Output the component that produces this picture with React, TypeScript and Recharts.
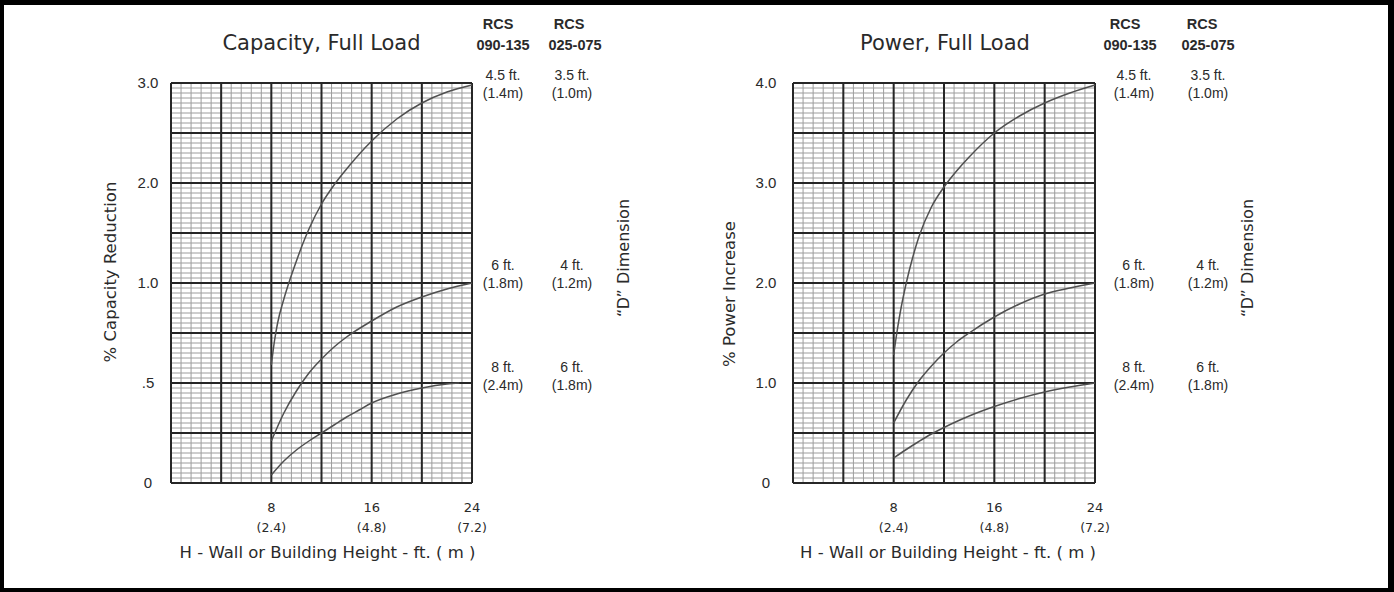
import { LineChart, Line, XAxis, YAxis, CartesianGrid } from 'recharts'

const FONT_G = "'DejaVu Sans', sans-serif"
const FONT_A = "'Liberation Sans', Arial, sans-serif"
const INK = '#2a2a2a'

// x axis (wall height, ft) ticks and their metric labels
const xTicks = [8, 16, 24]
const xTickMeters = ['(2.4)', '(4.8)', '(7.2)']

// y tick labels, one per plotted unit 0..4
const capTickLabels = ['0', '.5', '1.0', '2.0', '3.0']
const powTickLabels = ['0', '1.0', '2.0', '3.0', '4.0']

// "D" dimension labels next to the curve ends
const rcs090Labels = [['4.5 ft.', '(1.4m)'], ['6 ft.', '(1.8m)'], ['8 ft.', '(2.4m)']]
const rcs025Labels = [['3.5 ft.', '(1.0m)'], ['4 ft.', '(1.2m)'], ['6 ft.', '(1.8m)']]

// Capacity, Full Load — % capacity reduction
const capHeightsA = [8, 8.25, 8.5, 9, 9.5, 10, 10.5, 11, 12, 13, 14, 16, 18, 20, 22, 24]
const capReductionA = [0.59, 0.71, 0.8, 0.92, 1.04, 1.22, 1.39, 1.54, 1.79, 1.98, 2.14, 2.42, 2.64, 2.8, 2.91, 2.98]
const capHeightsB = [8, 9, 10, 11, 12, 13, 14, 16, 18, 20, 22, 24]
const capReductionB = [0.21, 0.35, 0.46, 0.55, 0.62, 0.68, 0.73, 0.81, 0.88, 0.93, 0.97, 1.0]
const capHeightsC = [8, 9, 10, 11, 12, 13, 14, 15, 16, 18, 20, 22, 23]
const capReductionC = [0.04, 0.11, 0.165, 0.21, 0.25, 0.29, 0.33, 0.365, 0.4, 0.445, 0.475, 0.495, 0.5]

// Power, Full Load — % power increase
const powHeightsA = [8, 8.25, 8.5, 9, 9.5, 10, 11, 12, 13, 14, 16, 18, 20, 22, 24]
const powIncreaseA = [1.28, 1.5, 1.69, 2.0, 2.25, 2.46, 2.76, 2.96, 3.12, 3.26, 3.5, 3.67, 3.8, 3.9, 3.98]
const powHeightsB = [8, 9, 10, 11, 12, 13, 14, 16, 18, 20, 22, 24]
const powIncreaseB = [0.6, 0.83, 1.02, 1.17, 1.3, 1.41, 1.5, 1.66, 1.79, 1.89, 1.95, 2.0]
const powHeightsC = [8, 9, 10, 11, 12, 13, 14, 16, 18, 20, 22, 24]
const powIncreaseC = [0.25, 0.335, 0.415, 0.49, 0.555, 0.615, 0.67, 0.765, 0.845, 0.91, 0.96, 1.0]

// capacity axis is stretched below 1.0 (0..1 takes half the height)
const capToAxis = (v: number) => (v <= 1 ? v * 2 : v + 1)
const powToAxis = (v: number) => v

const Y_MAX = 4
const X_MAX = 24

const steps = (step: number, n: number) => Array.from({ length: n + 1 }, (_, i) => +(i * step).toFixed(3))
const minorY = steps(0.05, 80)
const majorY = steps(0.5, 8)
const minorX = steps(0.8, 30)
const majorX = steps(4, 6)

const toRows = (hs: number[], vs: number[], f: (v: number) => number) => hs.map((h, i) => ({ h, v: f(vs[i]) }))

// grid lines at axis values, mapped onto the plot area
const yLines = (vals: number[]) => ({ yAxis, offset }: any) =>
  vals.map(v =>
    yAxis && typeof yAxis.scale === 'function' ? yAxis.scale(v) : offset.top + offset.height * (1 - v / Y_MAX)
  )
const xLines = (vals: number[]) => ({ xAxis, offset }: any) =>
  vals.map(v =>
    xAxis && typeof xAxis.scale === 'function' ? xAxis.scale(v) : offset.left + offset.width * (v / X_MAX)
  )

interface ChartProps {
  left: number
  rightMargin: number
  tickLabels: string[]
  tickCenter: number
  series: { h: number; v: number }[][]
}

function GridChart({ left, rightMargin, tickLabels, tickCenter, series }: ChartProps) {
  return (
    <div style={{ position: 'absolute', left, top: 0 }}>
      <LineChart width={622} height={592} margin={{ top: 83, right: rightMargin, bottom: 49, left: 131 }}>
        <CartesianGrid
          stroke="#9c9c9c"
          strokeWidth={1}
          horizontalCoordinatesGenerator={yLines(minorY)}
          verticalCoordinatesGenerator={xLines(minorX)}
        />
        <CartesianGrid
          stroke="#262626"
          strokeWidth={2}
          horizontalCoordinatesGenerator={yLines(majorY)}
          verticalCoordinatesGenerator={xLines(majorX)}
        />
        <XAxis
          type="number"
          dataKey="h"
          domain={[0, X_MAX]}
          ticks={xTicks}
          height={60}
          axisLine={false}
          tickLine={false}
          tick={({ x, payload }: any) => {
            const i = xTicks.indexOf(payload.value)
            return (
              <g>
                <text x={x} y={512} textAnchor="middle" fontFamily={FONT_G} fontSize={13} fill={INK}>{payload.value}</text>
                <text x={x} y={532} textAnchor="middle" fontFamily={FONT_G} fontSize={12.5} fill={INK}>{xTickMeters[i]}</text>
              </g>
            )
          }}
        />
        <YAxis
          type="number"
          domain={[0, Y_MAX]}
          ticks={[0, 1, 2, 3, 4]}
          width={40}
          axisLine={false}
          tickLine={false}
          tick={({ y, payload }: any) => (
            <text x={tickCenter} y={y} dy={5} textAnchor="middle" fontFamily={FONT_A} fontSize={15} fill={INK}>
              {tickLabels[payload.value]}
            </text>
          )}
        />
        {series.map((d, i) => (
          <Line key={i} data={d} dataKey="v" type="monotone" stroke="#505050" strokeWidth={1.5} dot={false} isAnimationActive={false} />
        ))}
      </LineChart>
    </div>
  )
}

interface NoteProps {
  titleX: number
  title: string
  yLabel: string
  yLabelX: number
  yLabelY: number
  rcsX: number[]
  numX: number[]
  colX: number[]
  dimX: number
  xLabelX: number
}

const rowY1 = [80, 270, 372]
const rowY2 = [98, 288, 390]

function Notes({ titleX, title, yLabel, yLabelX, yLabelY, rcsX, numX, colX, dimX, xLabelX }: NoteProps) {
  return (
    <g fill={INK}>
      <text x={titleX} y={50} textAnchor="middle" fontFamily={FONT_G} fontSize={21}>{title}</text>
      <text x={rcsX[0]} y={29} textAnchor="middle" fontFamily={FONT_A} fontSize={14.5} fontWeight="bold">RCS</text>
      <text x={numX[0]} y={50} textAnchor="middle" fontFamily={FONT_A} fontSize={14.5} fontWeight="bold">090-135</text>
      <text x={rcsX[1]} y={29} textAnchor="middle" fontFamily={FONT_A} fontSize={14.5} fontWeight="bold">RCS</text>
      <text x={numX[1]} y={50} textAnchor="middle" fontFamily={FONT_A} fontSize={14.5} fontWeight="bold">025-075</text>
      {rcs090Labels.map((r, i) => (
        <g key={'a' + i}>
          <text x={colX[0]} y={rowY1[i]} textAnchor="middle" fontFamily={FONT_A} fontSize={14}>{r[0]}</text>
          <text x={colX[0]} y={rowY2[i]} textAnchor="middle" fontFamily={FONT_A} fontSize={14}>{r[1]}</text>
        </g>
      ))}
      {rcs025Labels.map((r, i) => (
        <g key={'b' + i}>
          <text x={colX[1]} y={rowY1[i]} textAnchor="middle" fontFamily={FONT_A} fontSize={14}>{r[0]}</text>
          <text x={colX[1]} y={rowY2[i]} textAnchor="middle" fontFamily={FONT_A} fontSize={14}>{r[1]}</text>
        </g>
      ))}
      <text x={dimX} y={258} dy={6} textAnchor="middle" fontFamily={FONT_G} fontSize={16} transform={`rotate(-90 ${dimX} 258)`}>
        “D” Dimension
      </text>
      <text x={yLabelX} y={yLabelY} dy={6} textAnchor="middle" fontFamily={FONT_G} fontSize={16.5} transform={`rotate(-90 ${yLabelX} ${yLabelY})`}>
        {yLabel}
      </text>
      <text x={xLabelX} y={558} textAnchor="middle" fontFamily={FONT_G} fontSize={16.5}>H - Wall or Building Height - ft. ( m )</text>
    </g>
  )
}

export default function App() {
  const capSeries = [
    toRows(capHeightsA, capReductionA, capToAxis),
    toRows(capHeightsB, capReductionB, capToAxis),
    toRows(capHeightsC, capReductionC, capToAxis),
  ]
  const powSeries = [
    toRows(powHeightsA, powIncreaseA, powToAxis),
    toRows(powHeightsB, powIncreaseB, powToAxis),
    toRows(powHeightsC, powIncreaseC, powToAxis),
  ]
  return (
    <div style={{ position: 'absolute', left: 0, top: 0, width: 1394, height: 592, background: '#fff', overflow: 'hidden' }}>
      <GridChart left={0} rightMargin={150} tickLabels={capTickLabels} tickCenter={148} series={capSeries} />
      <GridChart left={622} rightMargin={149} tickLabels={powTickLabels} tickCenter={144} series={powSeries} />
      <svg width={1394} height={592} style={{ position: 'absolute', left: 0, top: 0, pointerEvents: 'none' }}>
        <Notes
          titleX={321.5}
          title="Capacity, Full Load"
          yLabel="% Capacity Reduction"
          yLabelX={110}
          yLabelY={272}
          rcsX={[498, 569]}
          numX={[503, 575]}
          colX={[503, 572]}
          dimX={623}
          xLabelX={327.5}
        />
        <Notes
          titleX={945}
          title="Power, Full Load"
          yLabel="% Power Increase"
          yLabelX={729}
          yLabelY={294}
          rcsX={[1125, 1202]}
          numX={[1130, 1208]}
          colX={[1134, 1208]}
          dimX={1247}
          xLabelX={948}
        />
      </svg>
      <div style={{ position: 'absolute', inset: 0, boxSizing: 'border-box', borderStyle: 'solid', borderColor: '#000', borderWidth: '5px 6px 4px 4px', pointerEvents: 'none' }} />
    </div>
  )
}
